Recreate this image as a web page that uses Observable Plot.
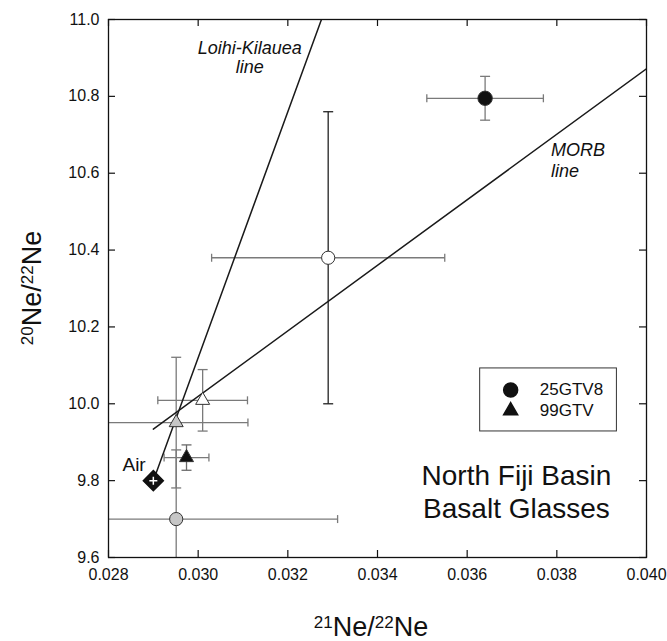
<!DOCTYPE html>
<html>
<head>
<meta charset="utf-8">
<script src="https://cdn.jsdelivr.net/npm/d3@7"></script>
<script src="https://cdn.jsdelivr.net/npm/@observablehq/plot@0.6"></script>
<style>
  html, body { margin: 0; padding: 0; background: #fff; }
  #chart svg { display: block; }
</style>
</head>
<body>
<div id="chart"></div>
<script>
// ---- data ----
const sampleNames = ["25GTV8", "open circle", "gray circle", "gray triangle", "white triangle", "99GTV"];
const ne21 = [0.0364, 0.0329, 0.02951, 0.02951, 0.0301, 0.02974];
const ne20 = [10.795, 10.38, 9.70, 9.951, 10.009, 9.86];
const ne21Err = [0.0013, 0.0026, 0.0036, 0.0016, 0.0010, 0.0005];
const ne20Err = [0.057, 0.38, 0.18, 0.17, 0.08, 0.033];
const symbols = ["circle", "circle", "circle", "triangle", "triangle", "triangle"];
const fills = ["#111", "#fff", "#c6c6c6", "#c6c6c6", "#fff", "#111"];
const yBarColors = ["#7a7a7a", "#222", "#7a7a7a", "#7a7a7a", "#7a7a7a", "#6a6a6a"];

const airX = [0.0290];
const airY = [9.80];

const loihiX = [0.0290, 0.03275];
const loihiY = [9.80, 11.0];
const morbX = [0.0290, 0.0400];
const morbY = [9.934, 10.872];

const xTicks = [0.028, 0.030, 0.032, 0.034, 0.036, 0.038, 0.040];
const yTicks = [9.6, 9.8, 10.0, 10.2, 10.4, 10.6, 10.8, 11.0];

const legendNames = ["25GTV8", "99GTV"];
const legendSymbols = ["circle", "triangle"];

// ---- build tables ----
const samples = sampleNames.map((name, i) => ({
  name, x: ne21[i], y: ne20[i], ex: ne21Err[i], ey: ne20Err[i],
  symbol: symbols[i], fill: fills[i], ybar: yBarColors[i]
}));
const loihi = loihiX.map((x, i) => ({x, y: loihiY[i]}));
const morb = morbX.map((x, i) => ({x, y: morbY[i]}));
const air = airX.map((x, i) => ({x, y: airY[i]}));

// custom cap symbols (stroke-only lines)
const vCap = {draw(ctx, size) { const h = Math.sqrt(size / Math.PI); ctx.moveTo(0, -h); ctx.lineTo(0, h); }};
const hCap = {draw(ctx, size) { const h = Math.sqrt(size / Math.PI); ctx.moveTo(-h, 0); ctx.lineTo(h, 0); }};

const W = 667, H = 641, mL = 108, mR = 21, mT = 19, mB = 84;
const innerW = W - mL - mR, innerH = H - mT - mB;
const tickLen = 7;
const font = "'Liberation Sans', Arial, Helvetica, sans-serif";
const grayBar = "#7a7a7a";

const chart = Plot.plot({
  width: W, height: H,
  marginLeft: mL, marginRight: mR, marginTop: mT, marginBottom: mB,
  style: {fontFamily: font, fontSize: "16px", color: "#111", background: "#fff"},
  x: {domain: [0.028, 0.040]},
  y: {domain: [9.6, 11.0]},
  r: {type: "identity"},
  marks: [
    // error bars: horizontal (gray)
    Plot.link(samples, {x1: d => d.x - d.ex, x2: d => d.x + d.ex, y1: "y", y2: "y", stroke: grayBar, strokeWidth: 1.3, clip: true}),
    Plot.dot(samples, {x: d => d.x - d.ex, y: "y", symbol: vCap, r: 4, stroke: grayBar, fill: "none", strokeWidth: 1.3, clip: true}),
    Plot.dot(samples, {x: d => d.x + d.ex, y: "y", symbol: vCap, r: 4, stroke: grayBar, fill: "none", strokeWidth: 1.3, clip: true}),
    // error bars: vertical
    Plot.link(samples, {x1: "x", x2: "x", y1: d => d.y - d.ey, y2: d => d.y + d.ey, stroke: d => d.ybar, strokeWidth: 1.3, clip: true}),
    Plot.dot(samples, {x: "x", y: d => d.y - d.ey, symbol: hCap, r: 5, stroke: d => d.ybar, fill: "none", strokeWidth: 1.3, clip: true}),
    Plot.dot(samples, {x: "x", y: d => d.y + d.ey, symbol: hCap, r: 5, stroke: d => d.ybar, fill: "none", strokeWidth: 1.3, clip: true}),
    // reference lines
    Plot.line(loihi, {x: "x", y: "y", stroke: "#1a1a1a", strokeWidth: 1.5, clip: true}),
    Plot.line(morb, {x: "x", y: "y", stroke: "#1a1a1a", strokeWidth: 1.5, clip: true}),
    // sample symbols
    Plot.dot(samples, {x: "x", y: "y", symbol: d => d.symbol, r: d => d.symbol === "circle" ? (d.name === "25GTV8" ? 7.2 : 6.6) : 5.2,
      fill: d => d.fill, stroke: "#333", strokeWidth: 1}),
    // Air
    Plot.dot(air, {x: "x", y: "y", symbol: "diamond2", r: 9, fill: "#111", stroke: "#111"}),
    Plot.dot(air, {x: "x", y: "y", symbol: "plus", r: 2.7, stroke: "#fff", strokeWidth: 1.5}),
    Plot.text(["Air"], {x: 0.02883, y: 9.824, text: d => d, textAnchor: "end", lineAnchor: "bottom", fontSize: 19}),
    // line labels
    Plot.text(["Loihi-Kilauea", "line"], {x: 0.03115, y: (d, i) => [10.911, 10.860][i], text: d => d, textAnchor: "middle", lineAnchor: "bottom", fontSize: 18, fontStyle: "italic"}),
    Plot.text(["MORB", "line"], {x: 0.03787, y: (d, i) => [10.646, 10.589][i], text: d => d, textAnchor: "start", lineAnchor: "bottom", fontSize: 18, fontStyle: "italic"}),
    // title annotation
    Plot.text(["North Fiji Basin", "Basalt Glasses"], {x: 0.03710, y: (d, i) => [9.789, 9.704][i], text: d => d, textAnchor: "middle", lineAnchor: "bottom", fontSize: 28}),
    // legend
    Plot.rect([0], {x1: 0.03629, x2: 0.03934, y1: 9.928, y2: 10.092, fill: "#fff", stroke: "#333", strokeWidth: 1}),
    Plot.dot(legendNames, {x: 0.03697, y: (d, i) => [10.036, 9.982][i], symbol: (d, i) => legendSymbols[i], r: (d, i) => i === 0 ? 7 : 5.2, fill: "#111", stroke: "#111"}),
    Plot.text(legendNames, {x: 0.03762, y: (d, i) => [10.023, 9.968][i], text: d => d, textAnchor: "start", lineAnchor: "bottom", fontSize: 17}),
    // inward ticks
    Plot.tickX(xTicks, {x: d => d, insetTop: innerH - tickLen, stroke: "#111", strokeWidth: 1.2}),
    Plot.tickX(xTicks, {x: d => d, insetBottom: innerH - tickLen, stroke: "#111", strokeWidth: 1.2}),
    Plot.tickY(yTicks, {y: d => d, insetRight: innerW - tickLen, stroke: "#111", strokeWidth: 1.2}),
    Plot.tickY(yTicks, {y: d => d, insetLeft: innerW - tickLen, stroke: "#111", strokeWidth: 1.2}),
    // tick labels
    Plot.axisX(xTicks, {tickSize: 0, tickPadding: 11, tickFormat: d3.format(".3f"), label: null, fontSize: 16}),
    Plot.axisY(yTicks, {tickSize: 0, tickPadding: 9, tickFormat: d3.format(".1f"), label: null, fontSize: 16}),
    Plot.frame({stroke: "#111", strokeWidth: 1.3})
  ]
});

// axis titles with true superscripts
const svg = d3.select(chart);
const xs = chart.scale("x"), ys = chart.scale("y");
const cx = (xs.apply(0.028) + xs.apply(0.040)) / 2;
const cy = (ys.apply(9.6) + ys.apply(11.0)) / 2;

function title(sel, a, b) {
  sel.attr("font-family", font).attr("font-size", 27).attr("fill", "#111").attr("text-anchor", "middle");
  sel.append("tspan").attr("font-size", 17).attr("baseline-shift", "50%").text(a);
  sel.append("tspan").text("Ne/");
  sel.append("tspan").attr("font-size", 17).attr("baseline-shift", "50%").text(b);
  sel.append("tspan").text("Ne");
}
title(svg.append("text").attr("x", cx - 6).attr("y", 636), "21", "22");
title(svg.append("text").attr("transform", `translate(41,${cy}) rotate(-90)`), "20", "22");

document.getElementById("chart").appendChild(chart);
</script>
</body>
</html>
